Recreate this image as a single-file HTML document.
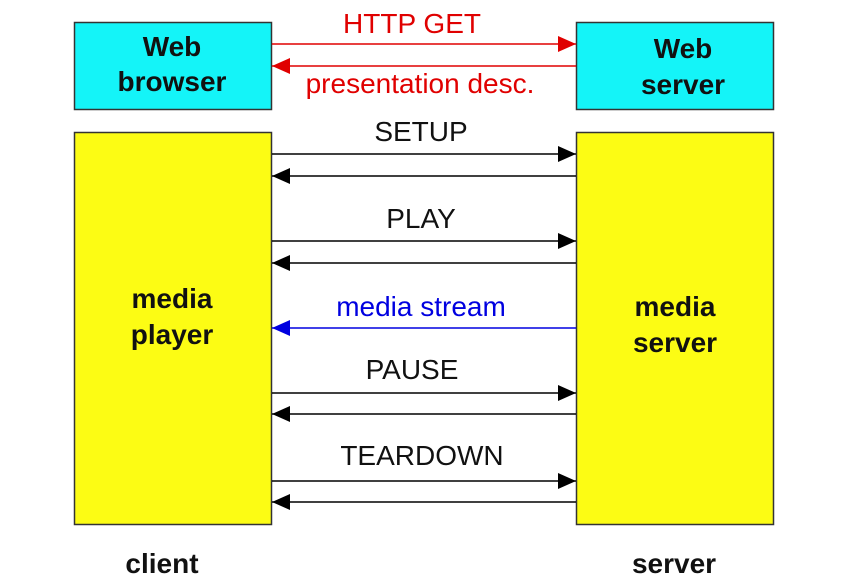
<!DOCTYPE html>
<html><head><meta charset="utf-8"><style>
html,body{margin:0;padding:0;background:#fff;width:841px;height:587px;overflow:hidden}
svg text{font-family:"Liberation Sans",Arial,sans-serif}
</style></head><body>
<svg width="841" height="587" viewBox="0 0 841 587" xmlns="http://www.w3.org/2000/svg">
<defs>
<marker id="ab" markerWidth="18" markerHeight="16" refX="18" refY="8" orient="auto" markerUnits="userSpaceOnUse"><path d="M0,0 L18,8 L0,16 Z" fill="#000"/></marker>
<marker id="ar" markerWidth="18" markerHeight="16" refX="18" refY="8" orient="auto" markerUnits="userSpaceOnUse"><path d="M0,0 L18,8 L0,16 Z" fill="#e00000"/></marker>
<marker id="abl" markerWidth="18" markerHeight="16" refX="18" refY="8" orient="auto" markerUnits="userSpaceOnUse"><path d="M0,0 L18,8 L0,16 Z" fill="#0000e0"/></marker>
</defs>
<rect x="74.5" y="22.5" width="197" height="87" fill="#14f4f8" stroke="#333" stroke-width="1.5"/>
<rect x="576.5" y="22.5" width="197" height="87" fill="#14f4f8" stroke="#333" stroke-width="1.5"/>
<rect x="74.5" y="132.5" width="197" height="392" fill="#fcfc14" stroke="#333" stroke-width="1.5"/>
<rect x="576.5" y="132.5" width="197" height="392" fill="#fcfc14" stroke="#333" stroke-width="1.5"/>
<g font-weight="bold" font-size="28" fill="#111" text-anchor="middle">
<text x="172" y="56">Web</text><text x="172" y="91">browser</text>
<text x="683" y="58">Web</text><text x="683" y="94">server</text>
<text x="172" y="308">media</text><text x="172" y="344">player</text>
<text x="675" y="316">media</text><text x="675" y="352">server</text>
<text x="162" y="573">client</text><text x="674" y="573">server</text>
</g>
<g stroke-width="1.5">
<line x1="272" y1="44" x2="576" y2="44" stroke="#e00000" marker-end="url(#ar)"/>
<line x1="576" y1="66" x2="272" y2="66" stroke="#e00000" marker-end="url(#ar)"/>
<line x1="272" y1="154" x2="576" y2="154" stroke="#000" marker-end="url(#ab)"/>
<line x1="576" y1="176" x2="272" y2="176" stroke="#000" marker-end="url(#ab)"/>
<line x1="272" y1="241" x2="576" y2="241" stroke="#000" marker-end="url(#ab)"/>
<line x1="576" y1="263" x2="272" y2="263" stroke="#000" marker-end="url(#ab)"/>
<line x1="576" y1="328" x2="272" y2="328" stroke="#0000e0" marker-end="url(#abl)"/>
<line x1="272" y1="393" x2="576" y2="393" stroke="#000" marker-end="url(#ab)"/>
<line x1="576" y1="414" x2="272" y2="414" stroke="#000" marker-end="url(#ab)"/>
<line x1="272" y1="481" x2="576" y2="481" stroke="#000" marker-end="url(#ab)"/>
<line x1="576" y1="502" x2="272" y2="502" stroke="#000" marker-end="url(#ab)"/>
</g>
<g font-size="28" text-anchor="middle">
<text x="412" y="33" fill="#e00000">HTTP GET</text>
<text x="420" y="93" fill="#e00000">presentation desc.</text>
<text x="421" y="141" fill="#111">SETUP</text>
<text x="421" y="228" fill="#111">PLAY</text>
<text x="421" y="316" fill="#0000e0">media stream</text>
<text x="412" y="379" fill="#111">PAUSE</text>
<text x="422" y="465" fill="#111">TEARDOWN</text>
</g>
</svg>
</body></html>
